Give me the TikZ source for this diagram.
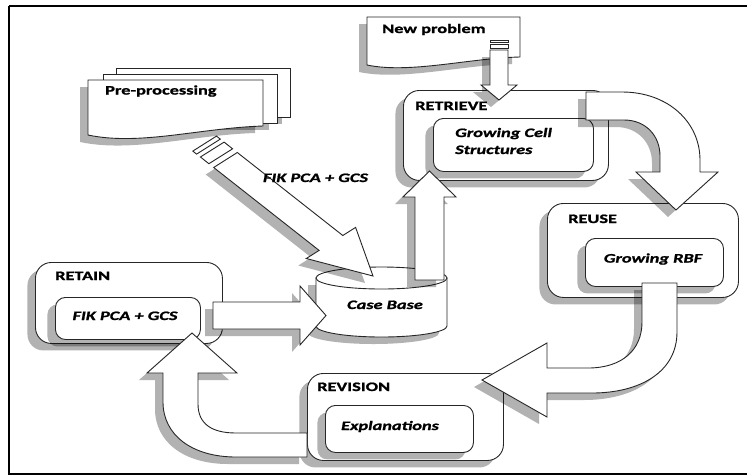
\documentclass[tikz,border=0pt]{standalone}
\usepackage{fontspec}
\setmainfont{Carlito}[FakeStretch=1.42, BoldFeatures={FakeBold=1.3}, BoldItalicFeatures={FakeBold=1.3}]
\usetikzlibrary{shadows}
\tikzset{
  ln/.style={draw=black!85, line width=0.9pt, line join=miter},
  shd/.style={drop shadow={shadow xshift=-8pt, shadow yshift=-7pt, fill=black, opacity=0.3}},
  outerbox/.style={ln, fill=white, rounded corners=16pt, shd, anchor=north west, inner sep=0pt},
  innerbox/.style={ln, fill=white, rounded corners=10pt, shd, anchor=north west, inner sep=0pt},
  blockarrow/.style={ln, fill=white, shd},
  docshape/.style={ln, fill=white, shd},
  stripe/.style={ln, fill=white},
  lbl/.style={font=\fontsize{12.9}{17}\selectfont\bfseries, anchor=base west, inner sep=0pt},
  ilbl/.style={font=\fontsize{12.9}{17}\selectfont\bfseries\itshape, anchor=base, inner sep=0pt},
}
\begin{document}
\begin{tikzpicture}[x=1pt,y=-1pt]
\useasboundingbox (0,0) rectangle (747,475);
\fill[white] (0,0) rectangle (747,475);

% Pre-processing (multi document)
\path[docshape] (116,68) rectangle (290,117);
\path[docshape] (103,74) rectangle (277,123);
\path[docshape] (88,80) -- (263,80) -- (263,126) .. controls (200,128) and (140,146) .. (88,135) -- cycle;
\node[lbl] (pre) at (105,94.5) {Pre-processing};

% New problem (document)
\path[docshape] (367,17) -- (520,17) -- (520,57) .. controls (470,58) and (410,74) .. (367,65) -- cycle;
\node[lbl] (newp) at (382,33) {New problem};

% Boxes
\node[outerbox, minimum width=205pt, minimum height=90pt] (retrieve) at (403,90) {};
\node[innerbox, minimum width=160pt, minimum height=53pt] (gcs) at (433,118) {};
\node[outerbox, minimum width=191pt, minimum height=94pt] (reuse) at (547,203) {};
\node[innerbox, minimum width=138pt, minimum height=48pt] (rbf) at (585,238) {};
\node[outerbox, minimum width=196pt, minimum height=87pt] (revision) at (307,373) {};
\node[innerbox, minimum width=148pt, minimum height=47pt] (expl) at (325,405) {};
\node[outerbox, minimum width=187pt, minimum height=81pt] (retain) at (35,262) {};
\node[innerbox, minimum width=145pt, minimum height=42pt] (fik) at (55,297) {};

% Case Base cylinder
\path[ln, fill=white, shd] (316,278) -- (316,326) .. controls (316,332.07) and (345.33,337) .. (381.5,337) .. controls (417.67,337) and (447,332.07) .. (447,326) -- (447,278) -- cycle;
\draw[ln, fill=white] (381.5,278) ellipse [x radius=65.5, y radius=11];
\coordinate (casebase) at (381.5,305);

% Arrows
% RETRIEVE -> REUSE
\path[blockarrow] (586,92) -- (622,92) .. controls (668,92) and (700,122) .. (700,160) -- (700,172) -- (718,172) -- (676,210) -- (636,172) -- (660,172) -- (660,156) .. controls (660,136) and (646,120) .. (624,120) -- (586,120) -- cycle;
% REUSE -> REVISION
\path[blockarrow] (642,283) -- (677,283) -- (677,332) .. controls (677,372) and (640,393) .. (592,393) -- (547,393) -- (547,417) -- (482,380) -- (547,343) -- (547,368) -- (588,368) .. controls (622,368) and (642,350) .. (642,322) -- cycle;
% REVISION -> RETAIN
\path[blockarrow] (307,457) -- (236,457) .. controls (192,457) and (163,435) .. (163,402) -- (163,373) -- (147,373) -- (192,333) -- (237,373) -- (198,373) -- (198,404) .. controls (198,424) and (212,433) .. (236,433) -- (307,433) -- cycle;
% RETAIN -> Case Base
\path[blockarrow] (213,302) -- (300,302) -- (300,286) -- (326,315.5) -- (300,345) -- (300,329) -- (213,329) -- cycle;
% Case Base -> RETRIEVE
\path[blockarrow] (415,280) -- (415,197) -- (403,197) -- (429.5,171) -- (456,197) -- (444,197) -- (444,280) -- cycle;
% New problem -> RETRIEVE
\path[stripe] (490,40) rectangle (508,42.5);
\path[stripe] (490,44.5) rectangle (508,48);
\path[blockarrow] (490,50) -- (508,50) -- (508,85) -- (517,85) -- (499,100) -- (481,85) -- (490,85) -- cycle;
% Pre-processing -> Case Base
\path[stripe] (192.8,151.1) -- (216.5,136.1) -- (220.3,139.1) -- (196.6,154.1) -- cycle;
\path[stripe] (200.4,157.0) -- (224.1,142.1) -- (232.6,148.8) -- (208.9,163.7) -- cycle;
\path[blockarrow] (213.7,167.5) -- (237.3,152.5) -- (342.8,235.5) -- (355.6,227.4) -- (373.0,276.0) -- (306.3,258.5) -- (319.1,250.4) -- cycle;

% Texts
\node[ilbl] (diaglbl) at (315.5,182) {FIK PCA + GCS};
\node[ilbl] (cbtxt) at (385,309) {Case Base};
\node[lbl] (retrievelbl) at (415,110) {RETRIEVE};
\node[ilbl, anchor=base west] (gcs1) at (455,137) {Growing Cell};
\node[ilbl, anchor=base west] (gcs2) at (455,154) {Structures};
\node[lbl] (reuselbl) at (568,223) {REUSE};
\node[ilbl] (rbftxt) at (653,262.5) {Growing RBF};
\node[lbl] (revisionlbl) at (317,391) {REVISION};
\node[ilbl] (expltxt) at (390,430) {Explanations};
\node[lbl] (retainlbl) at (55,280) {RETAIN};
\node[ilbl] (fiktxt) at (125,320) {FIK PCA + GCS};

% Frame
\coordinate (ftr) at (747,6);
\coordinate (ftl) at (9,6);
\coordinate (fbl) at (9,474);
\coordinate (fbr) at (747,474);
\draw[line width=2.6pt] (ftr) -- (ftl);
\draw[line width=2pt] (ftl) -- (fbl) -- (fbr);
\end{tikzpicture}
\end{document}
